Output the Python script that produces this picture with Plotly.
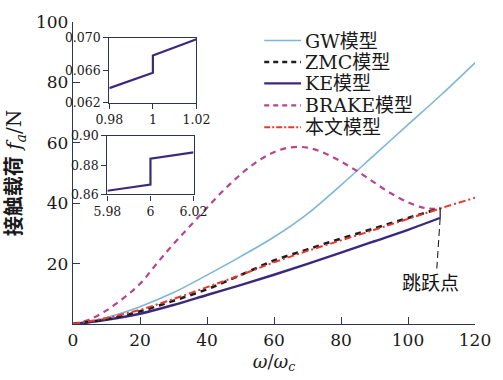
import plotly.graph_objects as go

# ---------------- data ----------------
omega_gw = [0, 5, 10, 15, 20, 30, 40, 50, 60, 70, 80, 90, 100, 110, 120]
f_gw = [0, 0.7, 2.1, 3.8, 5.7, 10.4, 16.2, 22.3, 28.8, 36.5, 46, 56, 66, 76, 86.5]

omega_zmc = [0, 10, 20, 30, 40, 50, 60, 70, 80, 90, 100, 109.5]
f_zmc = [0, 1.6, 4.2, 7.7, 11.5, 16.2, 21.0, 24.7, 28.3, 31.7, 35.1, 38.3]

omega_ke = [0, 10, 20, 30, 40, 50, 60, 70, 80, 90, 100, 109.5]
f_ke = [0, 1.4, 3.4, 6.3, 9.6, 12.9, 16.3, 19.9, 23.6, 27.4, 31.2, 35.1]

omega_brake = [0, 5, 10, 15, 20, 25, 30, 35, 40, 45, 50, 55, 60, 65, 70, 75, 80, 85, 90, 95, 100, 105, 109.5]
f_brake = [0, 1.5, 4.5, 8.5, 13.3, 20, 26.5, 32.5, 38.5, 44.3, 49.5, 53.8, 56.9, 58.5, 58.4, 56.6, 53.8, 50.5, 46.8, 43.2, 40.3, 38.4, 38.2]

omega_ours = [0, 10, 20, 30, 40, 50, 60, 70, 80, 90, 100, 110, 120]
f_ours = [0, 2.0, 4.7, 8.3, 12.2, 16.2, 20.4, 24.2, 27.7, 31.2, 34.8, 38.4, 41.8]

# jump marker
jump_solid_x = [109.6, 109.6]
jump_solid_y = [38.3, 35.1]
jump_dash_x = [109.6, 108.6]
jump_dash_y = [35.1, 18.4]
jump_label = "跳跃点"
jump_label_pos = (106.7, 14.1)

# insets
inset1_x = [0.98, 1.0, 1.0, 1.02]
inset1_y = [0.0638, 0.0657, 0.0678, 0.0698]
inset2_x = [5.98, 6.0, 6.0, 6.02]
inset2_y = [0.8625, 0.8668, 0.8845, 0.8888]

x_ticks = [0, 20, 40, 60, 80, 100, 120]
y_ticks = [20, 40, 60, 80, 100]

legend_names = ["GW模型", "ZMC模型", "KE模型", "BRAKE模型", "本文模型"]

# ---------------- style ----------------
C_GW = "#7db6d6"
C_ZMC = "#1e1e1e"
C_KE = "#3b2a7c"
C_BRAKE = "#b4458f"
C_OURS = "#e8392e"
AX = "#2e3550"
SERIF = "DejaVu Serif, Noto Sans CJK SC, serif"

legend_colors = [C_GW, C_ZMC, C_KE, C_BRAKE, C_OURS]
legend_dashes = ["solid", "5px,4px", "solid", "5px,4px", "6px,2px,2px,2px"]
legend_widths = [1.6, 2.4, 2.4, 2.2, 2.0]

fig = go.Figure()

fig.add_trace(go.Scatter(x=omega_gw, y=f_gw, mode="lines", name=legend_names[0],
                         line=dict(color=C_GW, width=1.6, shape="spline")))
fig.add_trace(go.Scatter(x=omega_brake, y=f_brake, mode="lines", name=legend_names[3],
                         line=dict(color=C_BRAKE, width=2.2, dash="6px,5px", shape="spline")))
fig.add_trace(go.Scatter(x=omega_ke, y=f_ke, mode="lines", name=legend_names[2],
                         line=dict(color=C_KE, width=2.4, shape="spline")))
fig.add_trace(go.Scatter(x=omega_zmc, y=f_zmc, mode="lines", name=legend_names[1],
                         line=dict(color=C_ZMC, width=2.6, dash="6px,5px", shape="spline")))
fig.add_trace(go.Scatter(x=omega_ours, y=f_ours, mode="lines", name=legend_names[4],
                         line=dict(color=C_OURS, width=2.0, dash="7px,3px,2px,3px", shape="spline")))

fig.add_trace(go.Scatter(x=jump_solid_x, y=jump_solid_y, mode="lines", showlegend=False,
                         line=dict(color="#222", width=1.3)))
fig.add_trace(go.Scatter(x=jump_dash_x, y=jump_dash_y, mode="lines", showlegend=False,
                         line=dict(color="#222", width=1.1, dash="7px,4px")))

# insets
fig.add_trace(go.Scatter(x=inset1_x, y=inset1_y, mode="lines", showlegend=False,
                         xaxis="x2", yaxis="y2", line=dict(color=C_KE, width=2.2)))
fig.add_trace(go.Scatter(x=inset2_x, y=inset2_y, mode="lines", showlegend=False,
                         xaxis="x3", yaxis="y3", line=dict(color=C_KE, width=2.2)))

fig.add_annotation(x=jump_label_pos[0], y=jump_label_pos[1], text=jump_label, showarrow=False,
                   font=dict(family="Noto Sans CJK SC", size=19, color="#111"))

W, H = 503, 380
L, R, T, B = 72.5, 15.3, 17, 53
pw, ph = W - L - R, H - T - B

def dx(px):
    return (px - L) / pw

def dy(py):
    return (H - B - py) / ph

# manual legend
legend_rows = [36, 58, 80, 102.5, 125]
for name, col, dsh, wd, ry in zip(legend_names, legend_colors, legend_dashes, legend_widths, legend_rows):
    fig.add_shape(type="line", xref="paper", yref="paper", x0=dx(270), x1=dx(308), y0=dy(ry), y1=dy(ry),
                  line=dict(color=col, width=wd, dash=dsh))
    fig.add_annotation(xref="paper", yref="paper", x=dx(310), y=dy(ry), text=name, showarrow=False,
                       xanchor="left", yanchor="middle",
                       font=dict(family=SERIF, size=19, color="#1a1a1a"))

axis_common = dict(showline=True, linecolor=AX, linewidth=1.3, ticks="inside", ticklen=7,
                   tickcolor=AX, tickwidth=1.3, showgrid=False, zeroline=False,
                   tickfont=dict(family=SERIF, size=17, color="#1a1a1a"))

inset_common = dict(showline=True, linecolor=AX, linewidth=1.2, mirror=True, ticks="outside",
                    ticklen=5, tickcolor=AX, tickwidth=1.1, showgrid=False, zeroline=False,
                    tickfont=dict(family=SERIF, size=12.5, color="#1a1a1a"))

fig.update_layout(
    width=W, height=H,
    margin=dict(l=L, r=R, t=T, b=B),
    paper_bgcolor="white", plot_bgcolor="white",
    font=dict(family=SERIF, color="#1a1a1a"),
    showlegend=False,
    xaxis=dict(range=[0, 120], tickvals=x_ticks, **axis_common,
               title=dict(text="<i>ω</i>/<i>ω<sub>c</sub></i>", standoff=6,
                          font=dict(family=SERIF, size=18, color="#1a1a1a"))),
    yaxis=dict(range=[0, 100], tickvals=y_ticks, **axis_common,
               title=dict(text="<b>接触载荷</b> <i>f<sub>a</sub></i>/N", standoff=8,
                          font=dict(family=SERIF, size=20, color="#1a1a1a"))),
    xaxis2=dict(domain=[dx(110), dx(200)], anchor="y2", range=[0.98, 1.02],
                tickvals=[0.98, 1.0, 1.02], ticktext=["0.98", "1", "1.02"], **inset_common),
    yaxis2=dict(domain=[dy(100), dy(33)], anchor="x2", range=[0.062, 0.070],
                tickvals=[0.062, 0.066, 0.070], ticktext=["0.062", "0.066", "0.070"], **inset_common),
    xaxis3=dict(domain=[dx(108), dx(197)], anchor="y3", range=[5.98, 6.02],
                tickvals=[5.98, 6.0, 6.02], ticktext=["5.98", "6", "6.02"], **inset_common),
    yaxis3=dict(domain=[dy(194), dy(134)], anchor="x3", range=[0.86, 0.90],
                tickvals=[0.86, 0.88, 0.90], ticktext=["0.86", "0.88", "0.90"], **inset_common),
)

fig.write_html("out.html")
